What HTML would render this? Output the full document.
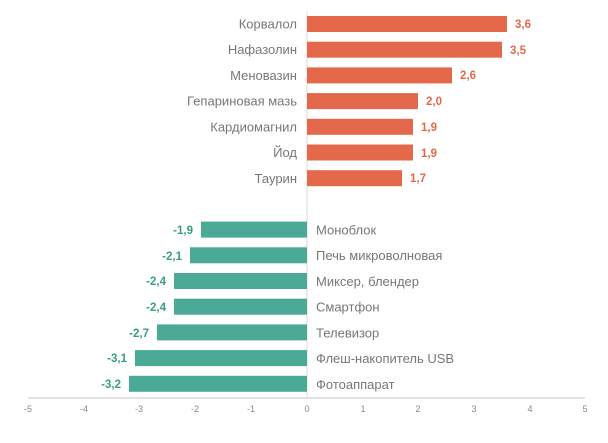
<!DOCTYPE html><html><head><meta charset="utf-8"><style>body{margin:0;background:#fff}</style></head><body>
<svg width="608" height="438" xmlns="http://www.w3.org/2000/svg" font-family="Liberation Sans, sans-serif">
<line x1="28" y1="398" x2="585" y2="398" stroke="#d9d9d9" stroke-width="1.5"/>
<line x1="307" y1="12" x2="307" y2="398" stroke="#d9d9d9" stroke-width="1"/>
<g font-size="9" fill="#888" text-anchor="middle">
<text x="28" y="412">-5</text><text x="84" y="412">-4</text><text x="139" y="412">-3</text><text x="195" y="412">-2</text><text x="251" y="412">-1</text><text x="307" y="412">0</text><text x="363" y="412">1</text><text x="418" y="412">2</text><text x="474" y="412">3</text><text x="530" y="412">4</text><text x="585" y="412">5</text>
</g>
<g fill="#e4694a">
<rect x="307" y="16" width="200" height="16"/>
<rect x="307" y="41.7" width="195" height="16"/>
<rect x="307" y="67.4" width="145" height="16"/>
<rect x="307" y="93.1" width="111" height="16"/>
<rect x="307" y="118.8" width="106" height="16"/>
<rect x="307" y="144.5" width="106" height="16"/>
<rect x="307" y="170.2" width="95" height="16"/>
</g>
<g font-size="13" fill="#777" text-anchor="end">
<text x="297" y="28.5">Корвалол</text>
<text x="297" y="54">Нафазолин</text>
<text x="297" y="80">Меновазин</text>
<text x="297" y="105.5">Гепариновая мазь</text>
<text x="297" y="131.5">Кардиомагнил</text>
<text x="297" y="157">Йод</text>
<text x="297" y="183">Таурин</text>
</g>
<g font-size="11.5" font-weight="bold" fill="#e4694a">
<text x="515" y="28">3,6</text>
<text x="510" y="54">3,5</text>
<text x="460" y="79">2,6</text>
<text x="426" y="105">2,0</text>
<text x="421" y="131">1,9</text>
<text x="421" y="157">1,9</text>
<text x="410" y="182">1,7</text>
</g>
<g fill="#4aaa96">
<rect x="201" y="221.6" width="106" height="16"/>
<rect x="190" y="247.3" width="117" height="16"/>
<rect x="174" y="273" width="133" height="16"/>
<rect x="174" y="298.7" width="133" height="16"/>
<rect x="157" y="324.4" width="150" height="16"/>
<rect x="135" y="350.1" width="172" height="16"/>
<rect x="129" y="375.8" width="178" height="16"/>
</g>
<g font-size="13" fill="#777">
<text x="316" y="234.5">Моноблок</text>
<text x="316" y="260">Печь микроволновая</text>
<text x="316" y="286">Миксер, блендер</text>
<text x="316" y="311.5">Смартфон</text>
<text x="316" y="337.5">Телевизор</text>
<text x="316" y="363">Флеш-накопитель USB</text>
<text x="316" y="389">Фотоаппарат</text>
</g>
<g font-size="11.5" font-weight="bold" fill="#3a9c86" text-anchor="end">
<text x="193" y="234">-1,9</text>
<text x="182" y="260">-2,1</text>
<text x="166" y="285">-2,4</text>
<text x="166" y="311">-2,4</text>
<text x="149" y="337">-2,7</text>
<text x="127" y="362">-3,1</text>
<text x="121" y="388">-3,2</text>
</g>
</svg>
</body></html>
